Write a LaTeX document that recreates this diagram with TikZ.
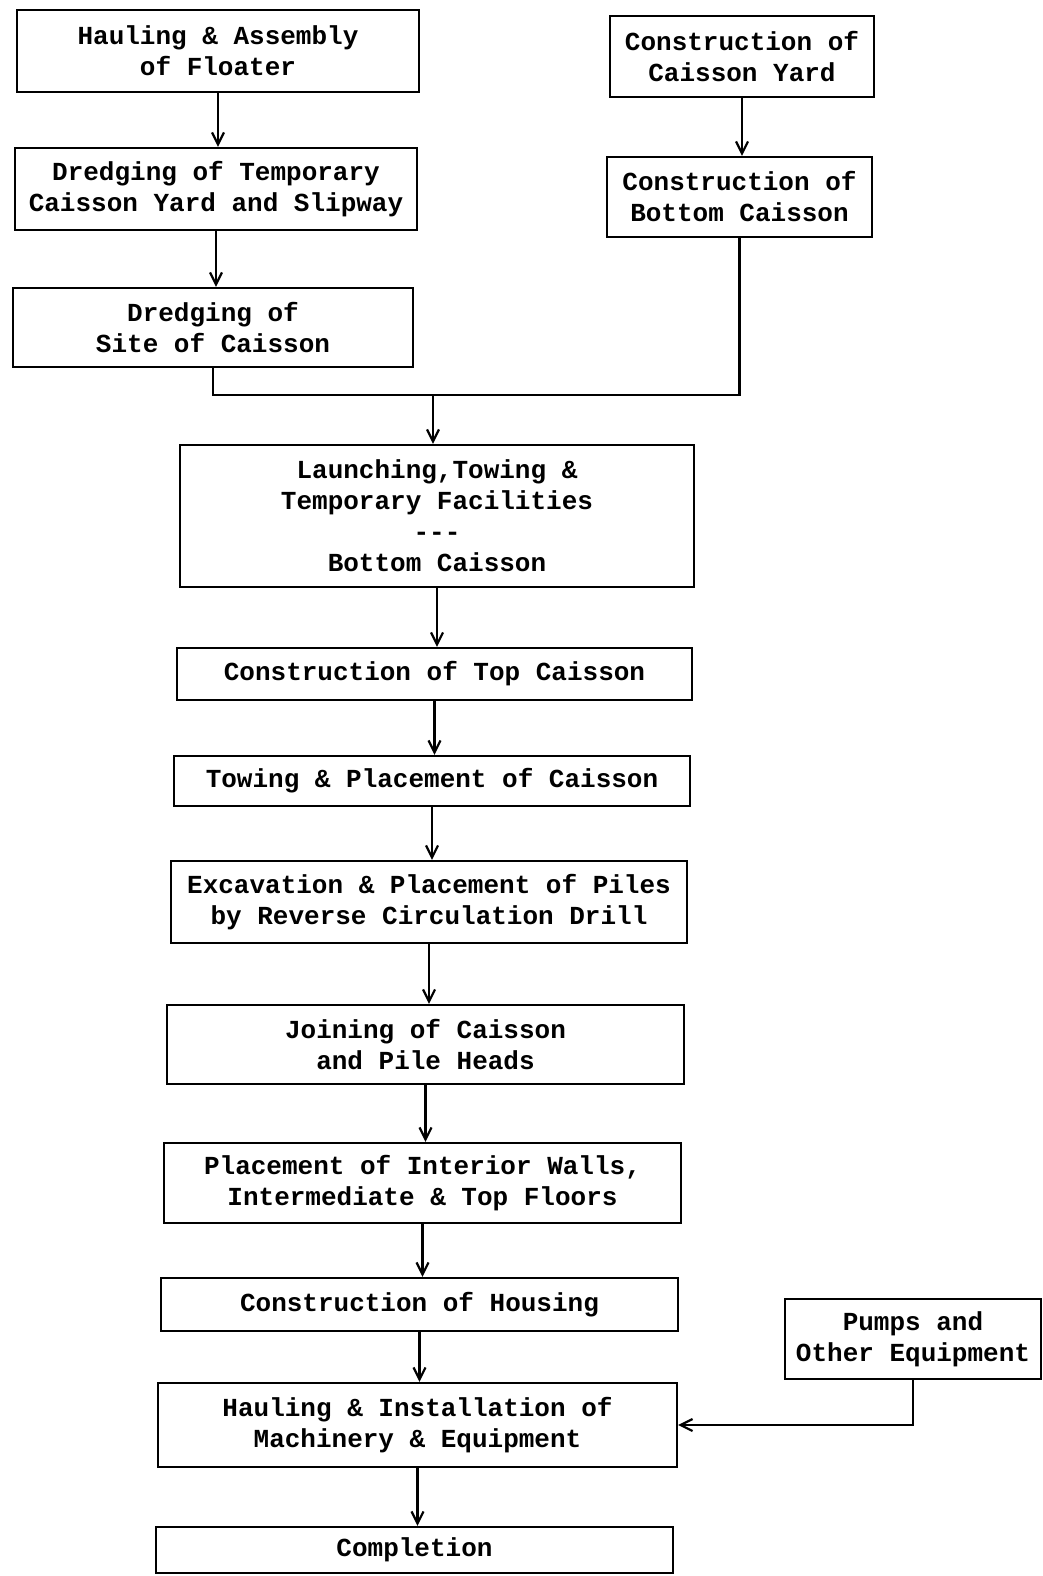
\documentclass[tikz,border=0pt]{standalone}
\usepackage{fontspec}
\setmonofont{Liberation Mono}
\usetikzlibrary{arrows.meta}

\begin{document}
\begin{tikzpicture}[x=0.5pt,y=-0.5pt,
    box/.style={draw, line width=1.1pt, align=center, inner sep=0pt,
      font=\ttfamily\bfseries\fontsize{13}{15.5}\selectfont},
    flow/.style={line width=1.1pt, -{Straight Barb[length=6pt,width=6pt]}}]
  \useasboundingbox (0,0) rectangle (1043,1576);

  \node[box, minimum width=201pt, minimum height=41pt] (floater) at (218,51) {Hauling \& Assembly\\of Floater};
  \node[box, minimum width=132pt, minimum height=40.5pt] (yard) at (742,56.5) {Construction of\\Caisson Yard};
  \node[box, minimum width=201pt, minimum height=41pt] (slipway) at (216,189) {Dredging of Temporary\\Caisson Yard and Slipway};
  \node[box, minimum width=132.5pt, minimum height=40pt] (bottom) at (739.5,197) {Construction of\\Bottom Caisson};
  \node[box, minimum width=200pt, minimum height=39.5pt] (site) at (213,327.5) {Dredging of\\Site of Caisson};
  \node[box, minimum width=257pt, minimum height=71pt] (launch) at (437,516) {Launching,Towing \&\\Temporary Facilities\\---\\Bottom Caisson};
  \node[box, minimum width=257.5pt, minimum height=26pt] (topc) at (434.5,674) {Construction of Top Caisson};
  \node[box, minimum width=258pt, minimum height=25pt] (towing) at (432,781) {Towing \& Placement of Caisson};
  \node[box, minimum width=258pt, minimum height=41pt] (piles) at (429,902) {Excavation \& Placement of Piles\\by Reverse Circulation Drill};
  \node[box, minimum width=258.5pt, minimum height=39.5pt] (joining) at (425.5,1044.5) {Joining of Caisson\\and Pile Heads};
  \node[box, minimum width=258.5pt, minimum height=40pt] (walls) at (422.5,1183) {Placement of Interior Walls,\\Intermediate \& Top Floors};
  \node[box, minimum width=258.5pt, minimum height=26.5pt] (housing) at (419.5,1304.5) {Construction of Housing};
  \node[box, minimum width=259.5pt, minimum height=42pt] (machinery) at (417.5,1425) {Hauling \& Installation of\\Machinery \& Equipment};
  \node[box, minimum width=258.5pt, minimum height=23pt] (done) at (414.5,1550) {Completion};
  \node[box, minimum width=128pt, minimum height=40pt] (pumps) at (913,1339) {Pumps and\\Other Equipment};

  \draw[flow] (floater.south) -- (floater.south |- slipway.north);
  \draw[flow] (yard.south) -- (yard.south |- bottom.north);
  \draw[flow] (slipway.south) -- (slipway.south |- site.north);

  \coordinate (merge) at (433,395);
  \draw[line width=1.1pt] (site.south) |- (merge) -| (bottom.south);
  \draw[flow] (merge) -- (merge |- launch.north);

  \draw[flow] (launch.south) -- (launch.south |- topc.north);
  \draw[flow] (topc.south) -- (topc.south |- towing.north);
  \draw[flow] (towing.south) -- (towing.south |- piles.north);
  \draw[flow] (piles.south) -- (piles.south |- joining.north);
  \draw[flow] (joining.south) -- (joining.south |- walls.north);
  \draw[flow] (walls.south) -- (walls.south |- housing.north);
  \draw[flow] (housing.south) -- (housing.south |- machinery.north);
  \draw[flow] (machinery.south) -- (machinery.south |- done.north);
  \draw[flow] (pumps.south) |- (machinery.east);
\end{tikzpicture}
\end{document}
